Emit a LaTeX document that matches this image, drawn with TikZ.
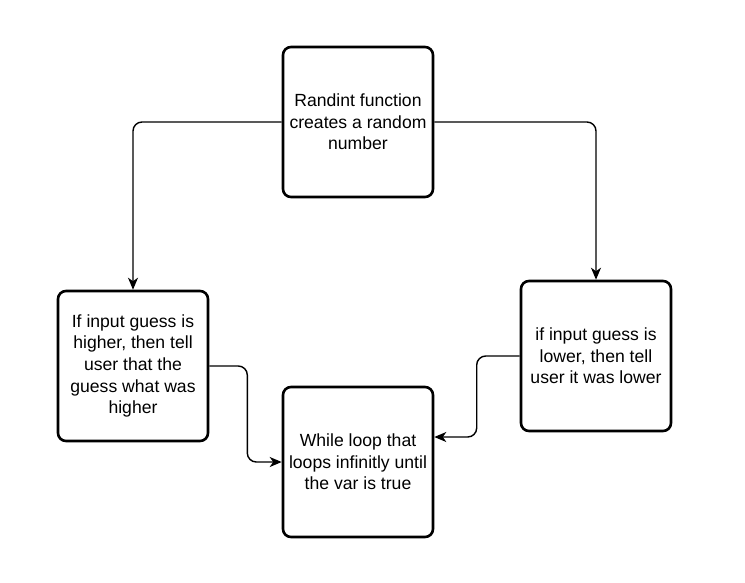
\documentclass[tikz,border=0pt]{standalone}
\usepackage{fontspec}
\setmainfont{Liberation Sans}
\usetikzlibrary{arrows.meta,calc}
\begin{document}
\begin{tikzpicture}[x=1pt,y=-1pt,
  stepbox/.style={draw=black, line width=2.6pt, rounded corners=8pt, fill=white,
    minimum width=150pt, minimum height=150pt, align=center, inner sep=1pt,
    font=\fontsize{17.6}{21.6}\selectfont},
  conn/.style={draw=black, line width=1.4pt, rounded corners=9pt,
    -{Stealth[length=12pt,width=10pt,inset=3.5pt]}}]
\useasboundingbox (0,0) rectangle (745,582);
\fill[white] (0,0) rectangle (745,582);
\node[stepbox] (top) at (358,122) {Randint function\\creates a random\\number};
\node[stepbox] (left) at (133,366) {If input guess is\\higher, then tell\\user that the\\guess what was\\higher};
\node[stepbox] (right) at (596,356) {if input guess is\\lower, then tell\\user it was lower};
\node[stepbox] (bottom) at (358,462) {While loop that\\loops infinitly until\\the var is true};
\coordinate (bin) at ([yshift=25pt]bottom.east);
\draw[conn] (top.west) -| (left.north);
\draw[conn] (top.east) -| (right.north);
\draw[conn] (left.east) -- ++(38,0) |- (bottom.west);
\draw[conn] (right.west) -- ++(-43,0) |- (bin);
\end{tikzpicture}
\end{document}
